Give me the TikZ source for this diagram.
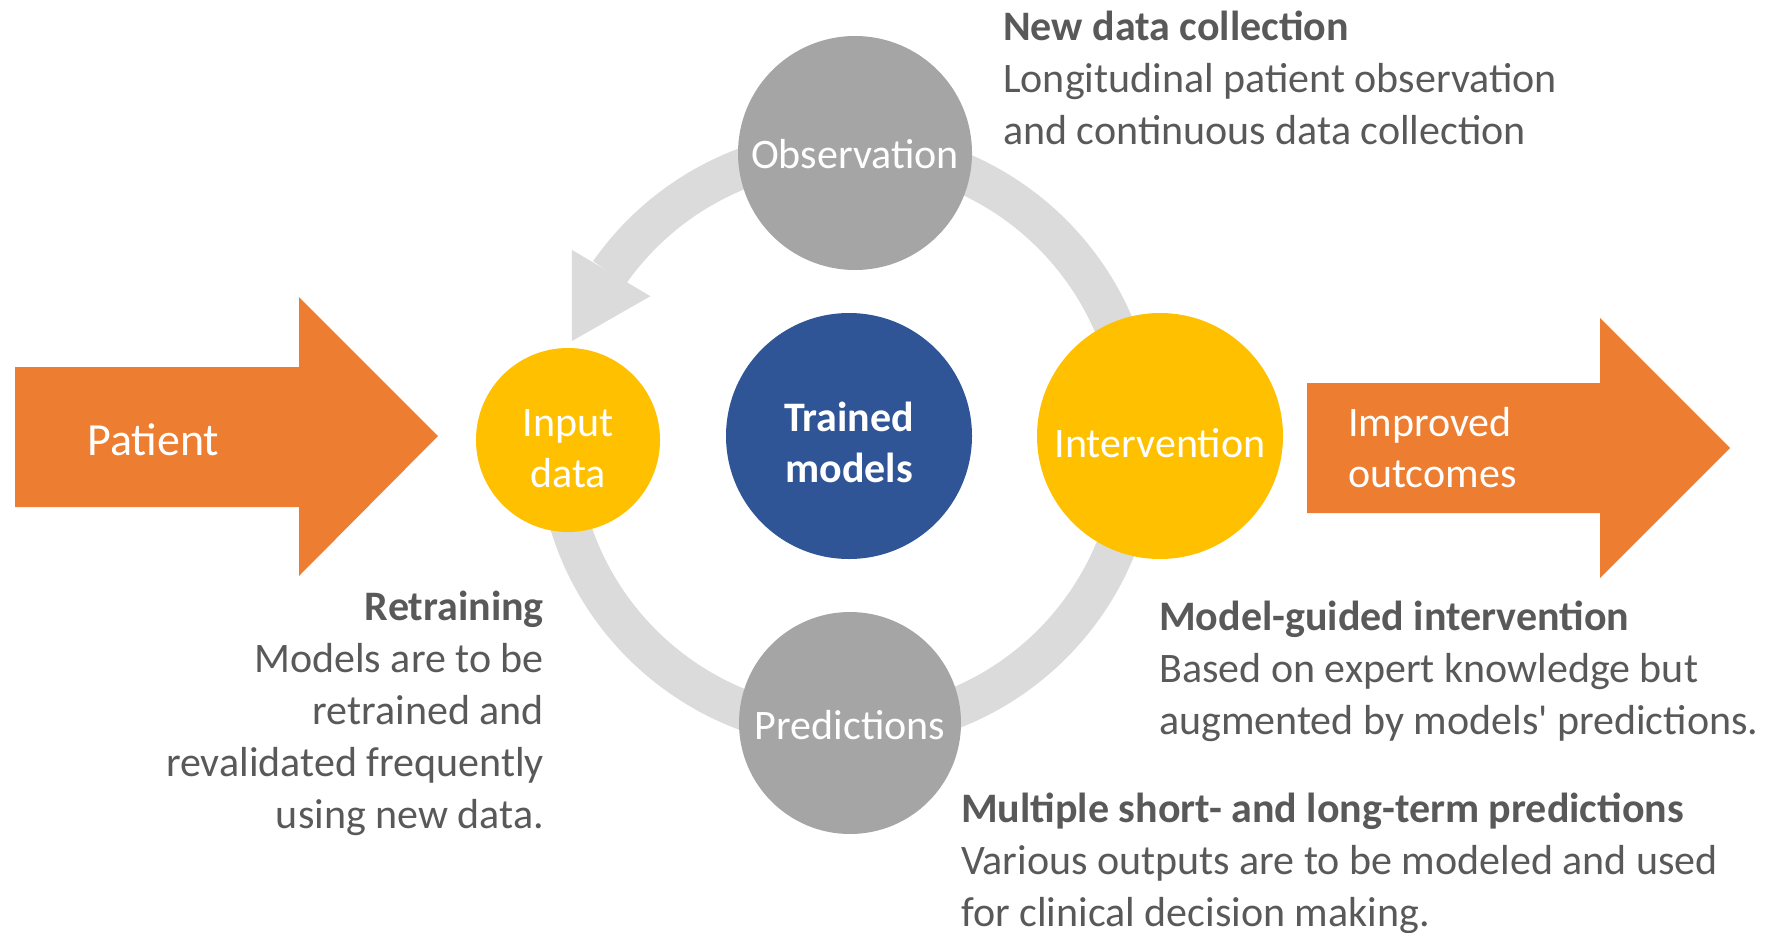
\documentclass[tikz,border=0pt]{standalone}
\usepackage{fontspec}
\setmainfont{Carlito}
\usetikzlibrary{calc}

\definecolor{arroworange}{HTML}{ED7D31}
\definecolor{stepyellow}{HTML}{FFC000}
\definecolor{modelblue}{HTML}{2F5597}
\definecolor{stepgray}{HTML}{A5A5A5}
\definecolor{loopgray}{HTML}{DBDBDB}
\definecolor{notegray}{HTML}{595959}

\begin{document}
\begin{tikzpicture}[x=1pt, y=1pt,
    stage/.style={circle, inner sep=0pt, text=white, align=center, text depth=0pt, font=\fontsize{42}{51}\selectfont},
    note/.style={inner sep=0pt, text=notegray, font=\fontsize{42}{52}\selectfont}]

\useasboundingbox (0,0) rectangle (1770,-932);

% loop behind the circles
\coordinate (hub) at (847,-439);
\draw[loopgray, line width=40pt] ($(hub)+(185:290pt)$) arc[start angle=185, end angle=505, radius=290pt];
\fill[loopgray] ($(hub)+(144:243pt)$) -- ($(hub)+(145.5:334pt)$) -- ($(hub)+(160.4:292pt)$) -- cycle;

% big arrows in and out
\fill[arroworange] (15,-367) -- (299,-367) -- (299,-297) -- (438,-436) -- (299,-576) -- (299,-507) -- (15,-507) -- cycle;
\fill[arroworange] (1307,-383) -- (1600,-383) -- (1600,-318) -- (1730,-448) -- (1600,-578) -- (1600,-513) -- (1307,-513) -- cycle;
\node[inner sep=0pt, text=white, anchor=base west, font=\fontsize{46}{55}\selectfont] (patient) at (87,-455) {Patient};
% base of a two-line node sits on its last line
\node[inner sep=0pt, text=white, anchor=base west, align=left, font=\fontsize{42}{51}\selectfont] (outcome) at (1348,-487) {Improved\\outcomes};

% circles (text height sets where the last baseline falls)
\node[stage, fill=stepgray, minimum size=234pt, text height=30pt] (obs) at (855,-153) {Observation};
\node[stage, fill=stepgray, minimum size=222pt, text height=32pt] (pred) at (850,-723) {Predictions};
\node[stage, fill=stepyellow, minimum size=184pt, text height=94pt] (input) at (568,-440) {Input\\data};
\node[stage, fill=stepyellow, minimum size=246pt, text height=42pt] (interv) at (1160,-436) {Intervention};
\node[stage, fill=modelblue, minimum size=246pt, text height=92pt, font=\fontsize{42}{51}\selectfont\bfseries] (models) at (849,-436) {Trained\\models};

% notes
\node[note, anchor=base west, align=left] (collect) at (1003,-144) {\textbf{New data collection}\\Longitudinal patient observation\\and continuous data collection};
\node[note, anchor=base east, align=right] (retrain) at (544,-828) {\textbf{Retraining}\\Models are to be\\retrained and\\revalidated frequently\\using new data.};
\node[note, anchor=base west, align=left] (guided) at (1159,-734) {\textbf{Model-guided intervention}\\Based on expert knowledge but\\augmented by models\textquotesingle{} predictions.};
\node[note, anchor=base west, align=left] (multi) at (961,-926) {\textbf{Multiple short- and long-term predictions}\\Various outputs are to be modeled and used\\for clinical decision making.};

\end{tikzpicture}
\end{document}
